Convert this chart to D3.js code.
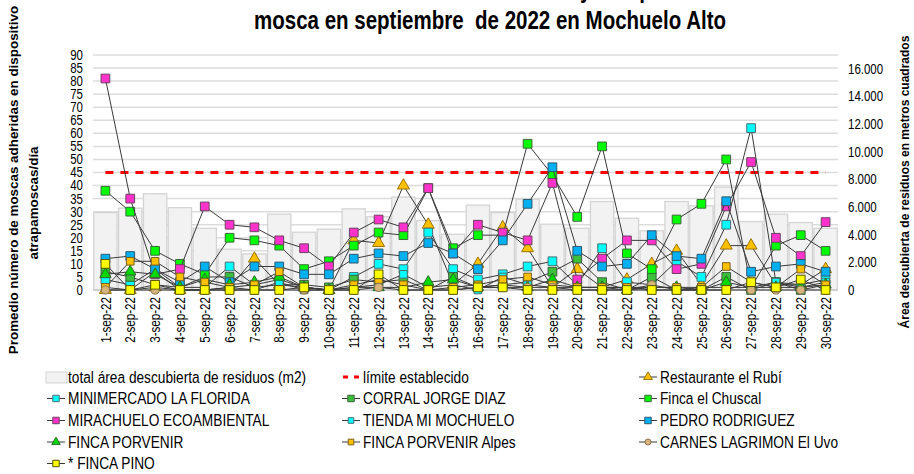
<!DOCTYPE html>
<html><head><meta charset="utf-8">
<script src="https://cdn.jsdelivr.net/npm/d3@7"></script>
<style>
body{margin:0;background:#fff}
svg{display:block}
text{font-family:"Liberation Sans",Arial,sans-serif;fill:#000}
</style>
</head><body><svg id="c" width="914" height="474"></svg>
<script>
// ---------------- DATA ----------------
const dates = ["1-sep-22","2-sep-22","3-sep-22","4-sep-22","5-sep-22","6-sep-22","7-sep-22","8-sep-22","9-sep-22","10-sep-22",
  "11-sep-22","12-sep-22","13-sep-22","14-sep-22","15-sep-22","16-sep-22","17-sep-22","18-sep-22","19-sep-22","20-sep-22",
  "21-sep-22","22-sep-22","23-sep-22","24-sep-22","25-sep-22","26-sep-22","27-sep-22","28-sep-22","29-sep-22","30-sep-22"];
const areaTotal = [5600,5920,6960,5960,4470,2950,2610,5480,4180,4400,5870,5300,6720,5020,4030,6140,5600,6570,4760,4470,6400,5190,4280,6400,6090,7440,4950,5480,4880,4470];
const limite = 45;
const rubi        = [0,0,1,0,0,1,12,2,1,0,19,18,40,25,2,10,24,16,1,8,1,4,10,15,2,17,17,2,2,8];
const minimercado = [4,2,8,1,1,9,2,4,1,0,5,10,8,22,8,4,6,9,11,2,16,3,2,11,5,25,62,3,2,4];
const corral      = [7,5,2,1,5,5,1,2,2,1,4,3,4,0,5,1,2,3,7,12,3,0,5,0,0,5,0,3,0,2];
const chuscal     = [38,30,15,10,6,20,19,17,8,11,17,22,21,39,16,21,21,56,44,28,55,14,8,27,33,50,1,17,21,15];
const mirachuelo  = [81,35,6,8,32,25,24,19,16,9,22,27,24,39,14,25,22,19,41,4,12,19,19,8,10,32,49,20,13,26];
const tienda      = [1,0,7,0,0,1,0,3,0,0,1,2,6,1,2,0,5,2,1,1,1,1,0,0,1,1,1,3,1,3];
const pedro       = [12,13,8,3,9,3,9,9,6,6,12,14,13,18,14,8,19,33,47,15,9,10,21,13,12,34,7,9,10,7];
const porvenir    = [6,7,6,1,4,2,3,5,1,0,1,1,1,3,4,1,2,1,4,1,1,0,1,1,0,3,1,1,1,2];
const alpes       = [1,11,11,5,3,1,2,7,1,0,2,4,2,0,1,2,4,5,2,1,1,1,1,1,1,9,3,1,8,2];
const carnes      = [0,0,0,0,0,0,0,0,0,0,0,1,0,0,0,1,1,1,1,0,0,0,2,0,0,0,0,0,0,0];
const pino        = [10,0,2,0,0,0,0,0,1,0,0,6,0,0,0,1,1,0,0,0,0,0,0,0,0,0,3,1,4,0];
const leftTicks = [0,5,10,15,20,25,30,35,40,45,50,55,60,65,70,75,80,85,90];
const rightTicks = [0,2000,4000,6000,8000,10000,12000,14000,16000];
const titleLine1 = "Área descubierta de residuos y comportamiento de la";
const titleLine2 = "mosca en septiembre  de 2022 en Mochuelo Alto";
const yTitle1 = "Promedio número de moscas adheridas en dispositivo";
const yTitle2 = "atrapamoscas/día";
const y2Title = "Área descubierta de residuos en metros cuadrados";
const barLegend = "total área descubierta de residuos (m2)";
const limLegend = "límite establecido";

const series = [
  {name:"Restaurante el Rubí", values:rubi, shape:"tri", fill:"#FFC000", stroke:"#9c7400", size:62},
  {name:"MINIMERCADO LA FLORIDA", values:minimercado, shape:"sq", fill:"#00FFFF", stroke:"#4a6f70", size:76},
  {name:"CORRAL JORGE DIAZ", values:corral, shape:"sq", fill:"#3CC03C", stroke:"#3d5e3d", size:76},
  {name:"Finca el Chuscal", values:chuscal, shape:"sq", fill:"#00FF00", stroke:"#3d6a3d", size:76},
  {name:"MIRACHUELO ECOAMBIENTAL", values:mirachuelo, shape:"sq", fill:"#FF33CC", stroke:"#6b4060", size:76},
  {name:"TIENDA MI MOCHUELO", values:tienda, shape:"sq", fill:"#00FFFF", stroke:"#4a6f70", size:58},
  {name:"PEDRO RODRIGUEZ", values:pedro, shape:"sq", fill:"#00B0F0", stroke:"#2f5a6e", size:76},
  {name:"FINCA PORVENIR", values:porvenir, shape:"tri", fill:"#00D800", stroke:"#2d6a2d", size:56},
  {name:"FINCA PORVENIR Alpes", values:alpes, shape:"sq", fill:"#FFC000", stroke:"#7a6020", size:58},
  {name:"CARNES LAGRIMON El Uvo", values:carnes, shape:"circ", fill:"#D6B47C", stroke:"#8a7450", size:52},
  {name:"* FINCA PINO", values:pino, shape:"sq", fill:"#FFFF00", stroke:"#555500", size:76}
];

// ---------------- CHART ----------------
const svg = d3.select("#c");
svg.append("rect").attr("width",914).attr("height",474).attr("fill","#fff");
const X0 = 93, X1 = 838, Y0 = 290, Y1 = 55;
const NS = 0.82; // horizontal condensing for narrow-looking text
const x = d3.scaleBand().domain(dates).range([X0, X1]).padding(0);
const cx = d => x(d) + x.bandwidth()/2;
const yL = d3.scaleLinear().domain([0,90]).range([Y0,Y1]);
const yR = d3.scaleLinear().domain([0,17000]).range([Y0,Y1]);
const fmtR = d3.formatLocale({decimal:",",thousands:".",grouping:[3],currency:["$",""]}).format(",");

function ntext(g, px, py, rot, size, anchor, str, sx){
  return g.append("text")
    .attr("transform",`translate(${px},${py}) rotate(${rot}) scale(${sx||NS},1)`)
    .attr("text-anchor",anchor).attr("dy","0.35em").attr("font-size",size).text(str);
}

// gridlines
svg.append("g").selectAll("line").data(leftTicks.filter(t=>t>0)).join("line")
  .attr("x1",X0).attr("x2",X1).attr("y1",d=>yL(d)).attr("y2",d=>yL(d))
  .attr("stroke","#dcdcdc").attr("stroke-width",1.5);

// bars
svg.append("g").selectAll("rect").data(dates).join("rect")
  .attr("x",d=>x(d)+0.75).attr("width",x.bandwidth()-1.5)
  .attr("y",(d,i)=>yR(areaTotal[i])).attr("height",(d,i)=>Y0-yR(areaTotal[i]))
  .attr("fill","#f2f2f2").attr("stroke","#d4d4d4").attr("stroke-width",1.3);

// baseline
svg.append("line").attr("x1",X0).attr("x2",X1).attr("y1",Y0).attr("y2",Y0).attr("stroke","#c8c8c8").attr("stroke-width",1.5);

// limit line
svg.append("line").attr("x1",cx(dates[0])).attr("x2",cx(dates[dates.length-1]))
  .attr("y1",yL(limite)).attr("y2",yL(limite))
  .attr("stroke","#FF0000").attr("stroke-width",3).attr("stroke-dasharray","8,7");

function symPath(shape,size){
  const t = shape==="tri"?d3.symbolTriangle:shape==="circ"?d3.symbolCircle:d3.symbolSquare;
  return d3.symbol().type(t).size(size)();
}
const line = d3.line().x((v,i)=>cx(dates[i])).y(v=>yL(v));
series.forEach(s=>{
  const g = svg.append("g");
  g.append("path").attr("d",line(s.values)).attr("fill","none").attr("stroke","#3a3a3a").attr("stroke-width",1);
  g.selectAll("path.m").data(s.values).join("path").attr("class","m")
    .attr("d",symPath(s.shape,s.size))
    .attr("transform",(v,i)=>`translate(${cx(dates[i])},${yL(v)})`)
    .attr("fill",s.fill).attr("stroke",s.stroke).attr("stroke-width",1);
});

// axis labels
const ax = svg.append("g");
leftTicks.forEach(t=>ntext(ax, 83, yL(t), 0, 14, "end", String(t)));
rightTicks.forEach(t=>ntext(ax, 848, yR(t), 0, 14, "start", fmtR(t)));
dates.forEach(d=>ntext(ax, cx(d), 297, -90, 14.5, "end", d, 0.8));

// titles
const t1 = svg.append("text").attr("font-size",25).attr("font-weight","bold").style("white-space","pre").text(titleLine1);
const yIdx = titleLine1.indexOf(" y ")+1;
const yPos = t1.node().getStartPositionOfChar(yIdx).x;
t1.attr("transform",`translate(${580 - yPos*NS},-2) scale(${NS},1)`);
svg.append("text").attr("transform",`translate(490,29) scale(${NS},1)`).attr("text-anchor","middle")
  .attr("font-size",25).attr("font-weight","bold").style("white-space","pre").text(titleLine2);
svg.append("text").attr("transform","translate(18,180) rotate(-90)").attr("text-anchor","middle").attr("font-size",13.4).attr("font-weight","bold").text(yTitle1);
svg.append("text").attr("transform","translate(38,203) rotate(-90)").attr("text-anchor","middle").attr("font-size",13.4).attr("font-weight","bold").text(yTitle2);
svg.append("text").attr("transform","translate(909,182) rotate(-90)").attr("text-anchor","middle").attr("font-size",12).attr("font-weight","bold").text(y2Title);

// legend
const lg = svg.append("g");
const cols = [56, 351, 648], rows = [377, 398.5, 420.5, 442, 463.5];
const legendItems = [{type:"bar",name:barLegend},{type:"lim",name:limLegend}].concat(series.map(s=>({type:"s",s:s,name:s.name})));
legendItems.forEach((it,k)=>{
  const cxL = cols[k%3], cyL = rows[Math.floor(k/3)];
  if(it.type==="bar"){
    lg.append("rect").attr("x",cxL-10).attr("y",cyL-5).attr("width",21).attr("height",11).attr("fill","#f2f2f2").attr("stroke","#d4d4d4");
  } else if(it.type==="lim"){
    lg.append("line").attr("x1",cxL-8).attr("x2",cxL+10).attr("y1",cyL).attr("y2",cyL).attr("stroke","#FF0000").attr("stroke-width",3).attr("stroke-dasharray","5,6");
  } else {
    lg.append("line").attr("x1",cxL-9).attr("x2",cxL+9).attr("y1",cyL).attr("y2",cyL).attr("stroke","#3a3a3a").attr("stroke-width",1);
    lg.append("path").attr("d",symPath(it.s.shape,it.s.size*0.55)).attr("transform",`translate(${cxL},${cyL})`)
      .attr("fill",it.s.fill).attr("stroke",it.s.stroke).attr("stroke-width",1);
  }
  ntext(lg, cxL+12, cyL, 0, 16.5, "start", it.name, 0.83);
});
</script></body></html>
